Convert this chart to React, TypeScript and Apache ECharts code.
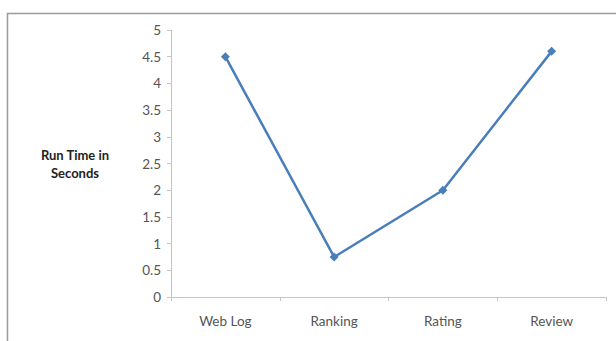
import React, { useEffect, useRef } from "react";
import * as echarts from "echarts";

const categories = ["Web Log", "Ranking", "Rating", "Review"];
const runTimes = [4.5, 0.75, 2.0, 4.6];
const yAxisTitle = "Run Time in\nSeconds";

export default function App() {
  const ref = useRef<HTMLDivElement>(null);

  useEffect(() => {
    if (!ref.current) return;
    const chart = echarts.init(ref.current, null, { renderer: "svg" });
    const labelFont = "Lato, 'Open Sans', sans-serif";
    chart.setOption({
      animation: false,
      backgroundColor: "#ffffff",
      graphic: [
        {
          type: "rect",
          shape: { x: 7.5, y: 13.5, width: 640, height: 360 },
          style: { fill: "none", stroke: "#9a9a9a", lineWidth: 1.5 },
          z: 0,
        },
        {
          type: "text",
          x: 75,
          y: 146,
          style: {
            text: yAxisTitle,
            font: `bold 13px ${labelFont}`,
            fill: "#222222",
            textAlign: "center",
            lineHeight: 18,
          },
        },
      ],
      grid: { left: 171, right: 10, top: 30, bottom: 44 },
      xAxis: {
        type: "category",
        data: categories,
        boundaryGap: true,
        axisLine: { lineStyle: { color: "#c4c4c4", width: 1 } },
        axisTick: { show: true, length: 4, inside: false, lineStyle: { color: "#c4c4c4" } },
        axisLabel: { color: "#555555", fontSize: 13.5, fontFamily: labelFont, margin: 17 },
      },
      yAxis: {
        type: "value",
        min: 0,
        max: 5,
        interval: 0.5,
        axisLine: { show: true, lineStyle: { color: "#c4c4c4", width: 1 } },
        axisTick: { show: true, length: 4, lineStyle: { color: "#c4c4c4" } },
        splitLine: { show: false },
        axisLabel: { color: "#555555", fontSize: 13.5, fontFamily: labelFont, margin: 10 },
      },
      series: [
        {
          type: "line",
          data: runTimes,
          symbol: "diamond",
          symbolSize: 9,
          lineStyle: { color: "#4a7ebb", width: 2.5 },
          itemStyle: { color: "#4a7ebb" },
        },
      ],
    });
    return () => chart.dispose();
  }, []);

  return (
    <div
      ref={ref}
      style={{ width: 616, height: 341, position: "absolute", left: 0, top: 0 }}
    />
  );
}
